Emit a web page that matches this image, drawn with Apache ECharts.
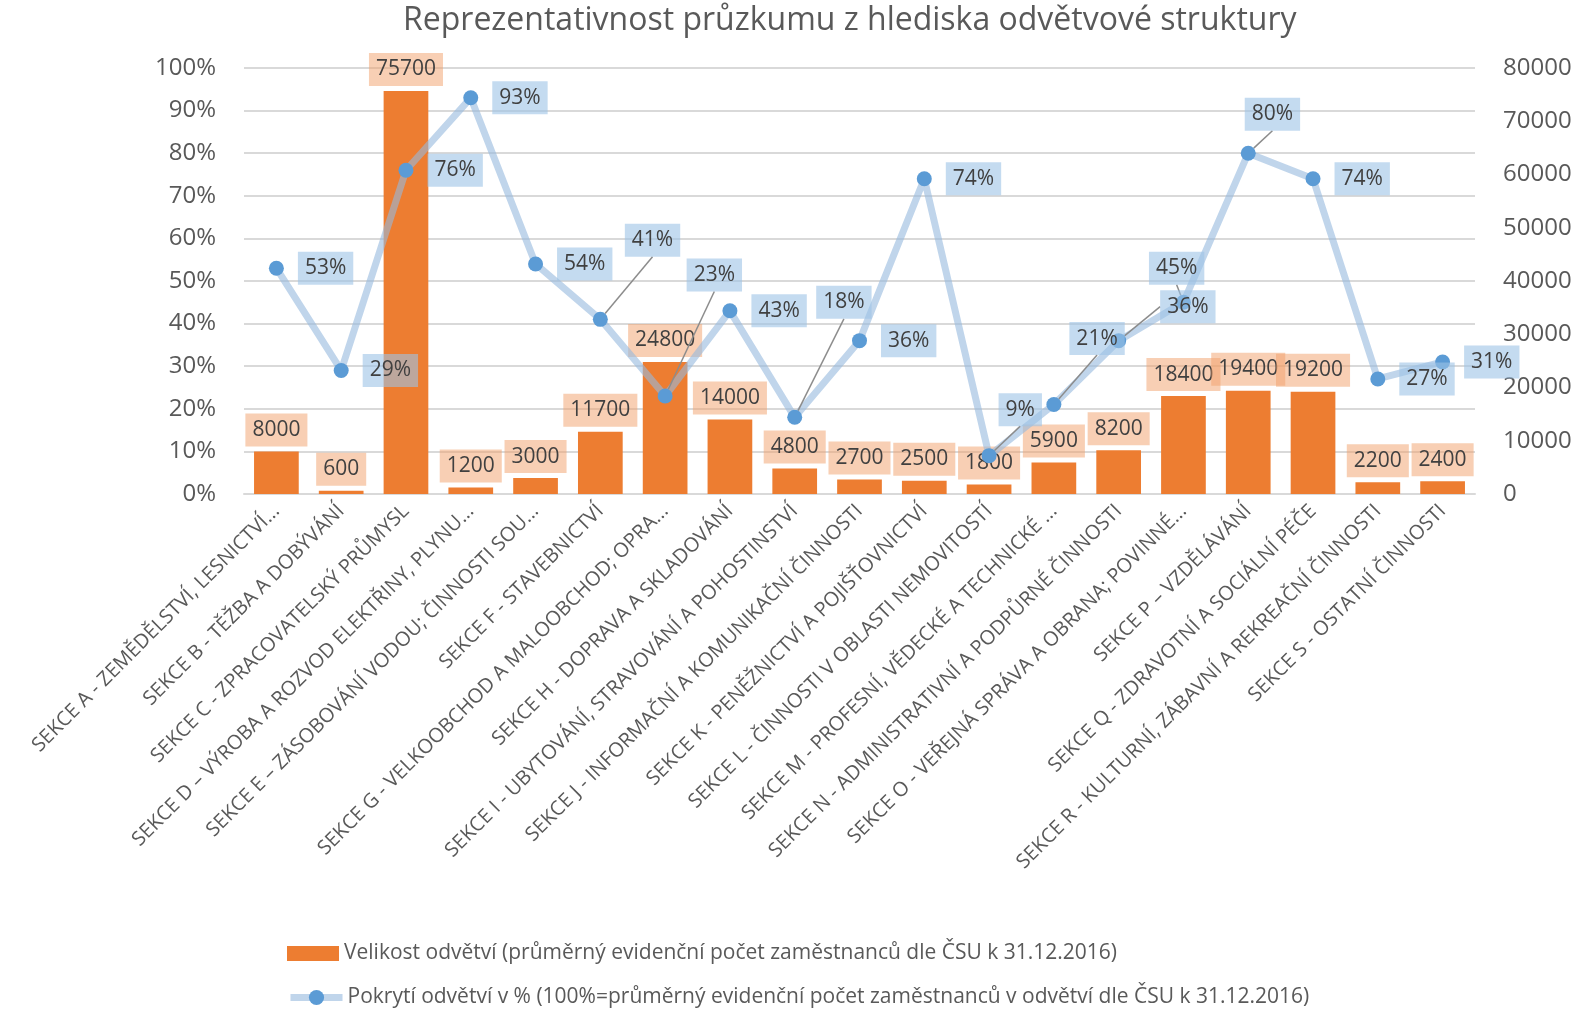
<!DOCTYPE html>
<html><head><meta charset="utf-8">
<script src="https://cdn.jsdelivr.net/npm/echarts@6/dist/echarts.min.js"></script>
<style>html,body{margin:0;padding:0;background:#fff}#c{width:1590px;height:1010px}</style>
</head><body><div id="c"></div>
<script>
const categories = [
  "SEKCE A - ZEMĚDĚLSTVÍ, LESNICTVÍ...",
  "SEKCE B - TĚŽBA A DOBÝVÁNÍ",
  "SEKCE C - ZPRACOVATELSKÝ PRŮMYSL",
  "SEKCE D – VÝROBA A ROZVOD ELEKTŘINY, PLYNU...",
  "SEKCE E – ZÁSOBOVÁNÍ VODOU; ČINNOSTI SOU...",
  "SEKCE F - STAVEBNICTVÍ",
  "SEKCE G - VELKOOBCHOD A MALOOBCHOD; OPRA...",
  "SEKCE H - DOPRAVA A SKLADOVÁNÍ",
  "SEKCE I - UBYTOVÁNÍ, STRAVOVÁNÍ A POHOSTINSTVÍ",
  "SEKCE J - INFORMAČNÍ A KOMUNIKAČNÍ ČINNOSTI",
  "SEKCE K - PENĚŽNICTVÍ A POJIŠŤOVNICTVÍ",
  "SEKCE L - ČINNOSTI V OBLASTI NEMOVITOSTÍ",
  "SEKCE M - PROFESNÍ, VĚDECKÉ A TECHNICKÉ ...",
  "SEKCE N - ADMINISTRATIVNÍ A PODPŮRNÉ ČINNOSTI",
  "SEKCE O - VEŘEJNÁ SPRÁVA A OBRANA; POVINNÉ...",
  "SEKCE P – VZDĚLÁVÁNÍ",
  "SEKCE Q - ZDRAVOTNÍ A SOCIÁLNÍ PÉČE",
  "SEKCE R - KULTURNÍ, ZÁBAVNÍ A REKREAČNÍ ČINNOSTI",
  "SEKCE S - OSTATNÍ ČINNOSTI"
];
const sizeValues = [8000, 600, 75700, 1200, 3000, 11700, 24800, 14000, 4800, 2700, 2500, 1800, 5900, 8200, 18400, 19400, 19200, 2200, 2400];
const coverageValues = [0.53, 0.29, 0.76, 0.93, 0.54, 0.41, 0.23, 0.43, 0.18, 0.36, 0.74, 0.09, 0.21, 0.36, 0.45, 0.80, 0.74, 0.27, 0.31];
const leftTicks = { min: 0, max: 1, interval: 0.1 };
const rightTicks = { min: 0, max: 80000, interval: 10000 };
const seriesNames = [
  "Velikost odvětví (průměrný evidenční počet zaměstnanců dle ČSU k 31.12.2016)",
  "Pokrytí odvětví v % (100%=průměrný evidenční počet zaměstnanců v odvětví dle ČSU k 31.12.2016)"
];
const titleText = "Reprezentativnost průzkumu z hlediska odvětvové struktury";

// label displacement for line labels (index -> [dx, dy])
const moved = {5:[3,-79], 6:[0,-121], 8:[0,-115], 11:[-12,-46], 12:[-6,-66], 13:[20,-34], 14:[-56,-34], 15:[-25,-39]};

const lineData = coverageValues.map((v, i) => moved[i]
  ? { value: v, labelLine: { show: true } }
  : { value: v, labelLine: { show: false } });

const FONT = "'Open Sans', 'Noto Sans', sans-serif";
const legendBase = {
  orient: 'horizontal', left: 282, itemWidth: 52, itemHeight: 15,
  textStyle: { fontFamily: FONT, fontSize: 21, color: '#595959' }
};
const chart = echarts.init(document.getElementById('c'), null, {renderer: 'canvas'});
chart.setOption({
  backgroundColor: '#fff',
  animation: false,
  textStyle: { fontFamily: FONT },
  title: {
    text: titleText, left: 398, top: 0,
    textStyle: { fontFamily: FONT, fontSize: 32, fontWeight: 'normal', color: '#595959' }
  },
  legend: [
    Object.assign({}, legendBase, { top: 938,
      data: [{ name: seriesNames[0], icon: 'rect' }] }),
    Object.assign({}, legendBase, { top: 982, itemHeight: 19,
      data: [{ name: seriesNames[1], lineStyle: { width: 7, color: 'rgba(150,185,222,0.6)' } }] })
  ],
  grid: { left: 244, right: 115, top: 68, bottom: 516, containLabel: false },
  xAxis: {
    type: 'category', data: categories,
    axisLine: { show: true, lineStyle: { color: '#D9D9D9', width: 2 } },
    axisTick: { show: false },
    axisLabel: { rotate: 45, interval: 0, fontFamily: FONT, fontSize: 20, color: '#595959', margin: 14 }
  },
  yAxis: [
    {
      type: 'value', min: leftTicks.min, max: leftTicks.max, interval: leftTicks.interval,
      axisLine: { show: false }, axisTick: { show: false },
      splitLine: { lineStyle: { color: '#D9D9D9', width: 2 } },
      axisLabel: { fontFamily: FONT, fontSize: 24, color: '#595959', margin: 28,
        formatter: v => Math.round(v * 100) + '%' }
    },
    {
      type: 'value', min: rightTicks.min, max: rightTicks.max, interval: rightTicks.interval,
      axisLine: { show: false }, axisTick: { show: false }, splitLine: { show: false },
      axisLabel: { fontFamily: FONT, fontSize: 24, color: '#595959', margin: 28,
        formatter: v => String(v) }
    }
  ],
  series: [
    {
      name: seriesNames[0], type: 'bar', yAxisIndex: 1, data: sizeValues,
      barWidth: '69%',
      itemStyle: { color: '#ED7D31' },
      label: {
        show: true, position: 'top', distance: 5,
        fontFamily: FONT, fontSize: 21, color: '#404040',
        backgroundColor: 'rgba(241,160,106,0.5)', padding: [6, 7, 6, 7]
      },
      z: 2
    },
    {
      name: seriesNames[1], type: 'line', yAxisIndex: 0, data: lineData,
      symbol: 'circle', symbolSize: 15,
      itemStyle: { color: '#5B9BD5' },
      lineStyle: { color: 'rgba(150,185,222,0.6)', width: 7 },
      label: {
        show: true, position: 'right', distance: 14,
        fontFamily: FONT, fontSize: 21, color: '#404040',
        backgroundColor: 'rgba(157,195,230,0.6)', padding: [6, 7, 6, 7],
        formatter: p => Math.round(p.value * 100) + '%'
      },
      labelLine: { lineStyle: { color: '#8c8c8c', width: 1.5 } },
      labelLayout: function (p) {
        const m = moved[p.dataIndex];
        if (m) return { dx: m[0], dy: m[1] };
        return {};
      },
      z: 3
    }
  ]
});
</script></body></html>
